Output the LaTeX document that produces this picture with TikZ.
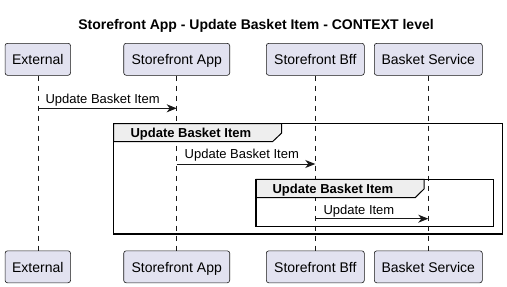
\documentclass[tikz,border=0pt]{standalone}
\usepackage{fontspec}
\setmainfont{Liberation Sans}
\usetikzlibrary{arrows.meta}
\definecolor{partfill}{HTML}{E2E2F0}
\definecolor{ink}{HTML}{181818}
\definecolor{tabfill}{HTML}{EEEEEE}
\tikzset{
  participant/.style={draw=ink, line width=0.6pt, fill=partfill, rounded corners=2.5pt,
    minimum height=32pt, inner sep=0pt, text height=12pt, text depth=1.4pt,
    font=\fontsize{14pt}{16pt}\selectfont},
  lifeline/.style={draw=ink, line width=0.5pt, dash pattern=on 5pt off 5pt},
  msg/.style={draw=ink, line width=1pt, -{Stealth[length=10pt, width=8pt, inset=3pt]}},
  msglabel/.style={anchor=base west, inner sep=0pt, font=\fontsize{13pt}{15pt}\selectfont},
  groupframe/.style={draw=black, line width=1.5pt},
  grouptab/.style={draw=black, line width=1pt, fill=tabfill},
  grouplabel/.style={anchor=base west, inner sep=0pt, font=\fontsize{13pt}{15pt}\selectfont\bfseries},
}
\begin{document}
\begin{tikzpicture}[x=1pt, y=-1pt]
  \useasboundingbox (0,0) rectangle (507,287);

  % title
  \node[anchor=base, inner sep=0pt, font=\fontsize{14pt}{16pt}\selectfont\bfseries] (title) at (256,29.3)
    {Storefront App - Update Basket Item - CONTEXT level};

  % participants, top and bottom
  \node[participant, minimum width=65.5pt]  (extTop) at (37.8,59.3) {External};
  \node[participant, minimum width=106pt]   (appTop) at (176.7,59.3) {Storefront App};
  \node[participant, minimum width=98pt]    (bffTop) at (315.3,59.3) {Storefront Bff};
  \node[participant, minimum width=108pt]   (bskTop) at (428.3,59.3) {Basket Service};

  \node[participant, minimum width=65.5pt]  (extBot) at (37.8,266.8) {External};
  \node[participant, minimum width=106pt]   (appBot) at (176.7,266.8) {Storefront App};
  \node[participant, minimum width=98pt]    (bffBot) at (315.3,266.8) {Storefront Bff};
  \node[participant, minimum width=108pt]   (bskBot) at (428.3,266.8) {Basket Service};

  % lifelines
  \draw[lifeline] (extTop.south) -- (extBot.north);
  \draw[lifeline] (appTop.south) -- (appBot.north);
  \draw[lifeline] (bffTop.south) -- (bffBot.north);
  \draw[lifeline] (bskTop.south) -- (bskBot.north);

  % outer group: frame and label tab (the tab hides the lifelines behind it)
  \draw[grouptab] (113.5,123.5) -- (281.7,123.5) -- (281.7,133) -- (272.7,141.5) -- (113.5,141.5) -- cycle;
  \draw[groupframe] (113.5,123.5) rectangle (502.5,234);
  \node[grouplabel] (g1label) at (130.3,137.3) {Update Basket Item};

  % inner group
  \draw[grouptab] (256,179.3) -- (424,179.3) -- (424,189) -- (415.3,197.5) -- (256,197.5) -- cycle;
  \draw[groupframe] (256,179.3) rectangle (493.3,226.7);
  \node[grouplabel] (g2label) at (272.4,193.3) {Update Basket Item};

  % messages
  \draw[msg] (extTop.south |- 0,108.3) -- (appTop.south |- 0,108.3);
  \node[msglabel] (m1) at (45.3,103.3) {Update Basket Item};

  \draw[msg] (appTop.south |- 0,164) -- (bffTop.south |- 0,164);
  \node[msglabel] (m2) at (184.5,158.3) {Update Basket Item};

  \draw[msg] (bffTop.south |- 0,218.7) -- (bskTop.south |- 0,218.7);
  \node[msglabel] (m3) at (323.3,214) {Update Item};
\end{tikzpicture}
\end{document}
